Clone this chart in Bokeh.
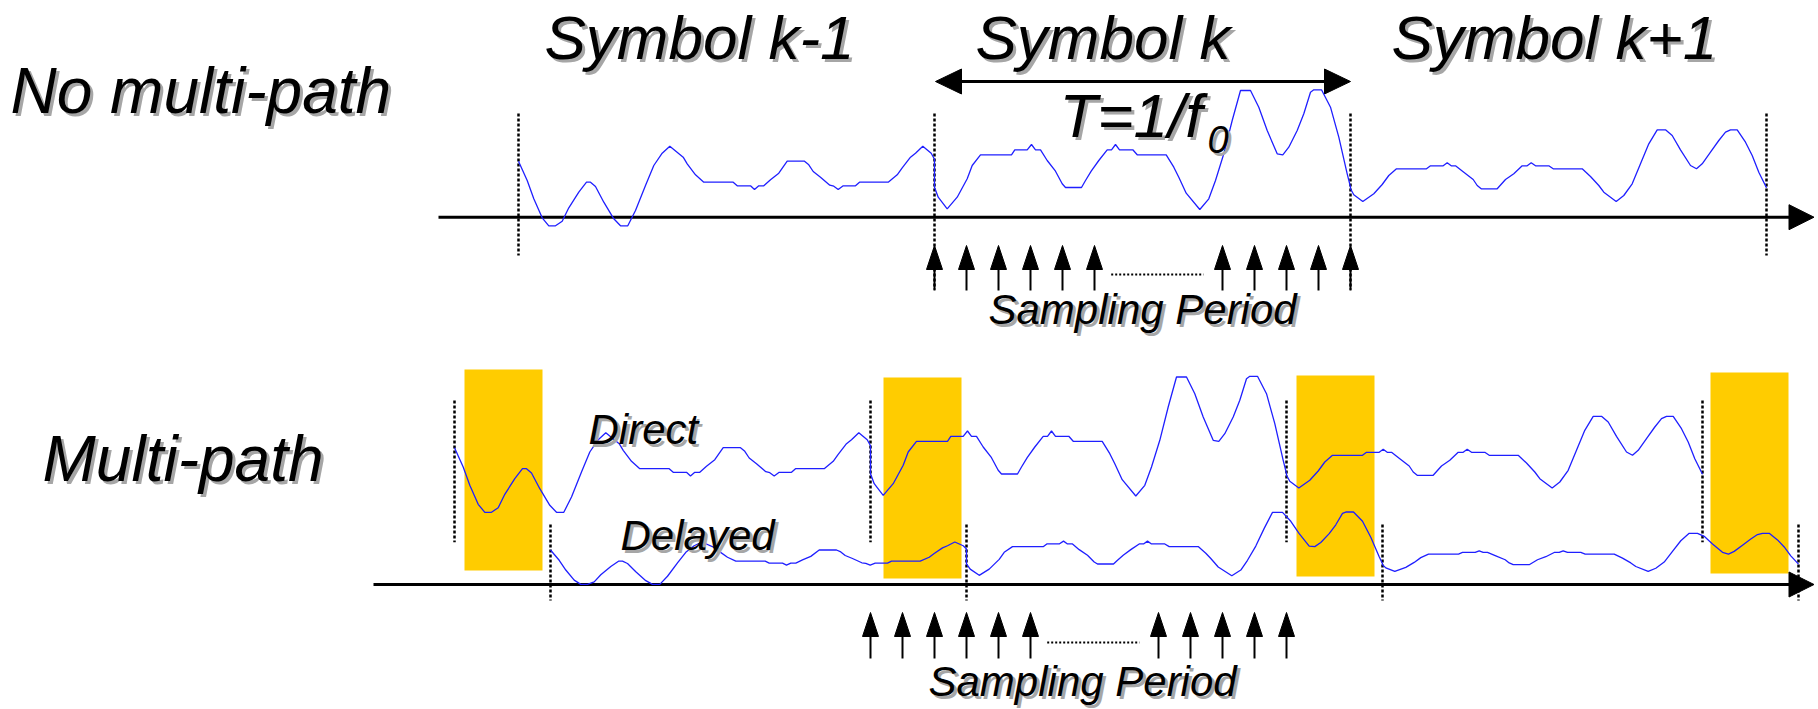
import numpy as np
from bokeh.plotting import figure
from bokeh.models import Range1d
from bokeh.embed import file_html
from bokeh.resources import INLINE
from bokeh.core.properties import value

# ---------------- data ----------------
# waveform of each symbol: offset inside the symbol (px of a 416px symbol) and amplitude above baseline
KM1_DX = [0, 8.7, 15.3, 23.7, 30.3, 37, 43.7, 50.3, 60.3, 68, 72, 77, 85.3, 95.3, 102, 109.3, 117, 127,
          135.3, 143.7, 151.3, 164.7, 168.7, 177, 185.3, 214.7, 218.7, 232, 236, 240.3, 245.3, 252, 260.3,
          268.7, 286, 290.3, 294.7, 302, 311.3, 315.3, 319.7, 324.7, 337, 341, 369.7, 378.7, 383.7, 392,
          397, 404.3, 412.7, 416]
KM1_AMP = [56, 36.7, 18.4, -0.6, -8.6, -8.6, -4, 9.4, 25, 35, 35, 30.7, 15, -1.6, -8.6, -8.6, 6.7, 31.7,
           51.7, 64, 71, 60, 53.4, 42.4, 35, 35, 31.4, 31.4, 27.7, 31.4, 31.4, 37.4, 44,
           56, 56, 52.4, 45.7, 40, 32, 31, 27.7, 31.4, 31.4, 35, 35, 42.4, 49.4, 60,
           64, 71, 64, 58]

K_DX = [0, 3.7, 12.7, 22.7, 32.7, 37.7, 46, 77, 80.3, 92.7, 97, 101, 106, 112.7, 121, 127.7, 131, 147,
        151, 156.7, 164.3, 172.7, 177, 181, 185, 198.3, 202.7, 231.7, 239.3, 244.3, 251.7, 265.3, 274.3,
        281, 289.3, 297.7, 306, 316, 324.3, 332.7, 342.7, 348.3, 354.3, 362.7, 369.3, 376, 379.3, 387,
        396, 404.3, 412.7, 416]
K_AMP = [30, 20, 8.4, 20, 38.4, 51.7, 62.4, 62.4, 67.4, 67.4, 72.7, 67.4, 67.4, 56.7, 46, 33.4, 29.7, 29.7,
         36.7, 46, 56.7, 67.4, 67.4, 72.7, 67.4, 67.4, 62.4, 62.4, 50, 40, 24, 7.7, 18.4,
         36.7, 63.4, 96.7, 126.7, 126.7, 110, 86.7, 63.4, 62.4, 70, 86.7, 103.4, 125, 127.4, 127.4,
         110, 80, 43.4, 30]

KP1_DX = [0, 3.3, 12.3, 23.3, 31.7, 38.3, 46, 76, 80, 92.7, 96.7, 100.7, 105, 113.3, 122.7, 126.7, 130.7,
          146.7, 155, 163.3, 171.7, 176.7, 180.7, 185, 198.3, 202.7, 231.7, 240, 248.3, 253.3, 265.7,
          273.3, 281.7, 290, 298.3, 306.7, 315, 321.7, 330, 340, 346, 351.7, 360, 368.3, 375, 380,
          386.7, 395, 401.7, 408.3, 416]
KP1_AMP = [28.4, 22.4, 15.7, 23.4, 32.7, 41.7, 48.4, 48.4, 51.4, 51.4, 54.4, 51.4, 51.4, 45, 37.7, 31.7, 28.4,
           28.4, 37.7, 43.4, 51.4, 51.4, 54.4, 51.4, 51.4, 48.4, 48.4, 40.7, 31.7, 25, 15.7,
           21.7, 33.4, 53.4, 73.4, 87.4, 87.4, 81.7, 67.4, 51.7, 48.4, 53.4, 65, 76.7, 85, 87.4,
           87.4, 75, 61.7, 45, 29.4]

SYMBOL_LABELS = ["Symbol k-1", "Symbol k", "Symbol k+1"]
SAMPLES_PER_SYMBOL = 13
SHOWN_SAMPLES = [0, 1, 2, 3, 4, 5, 9, 10, 11, 12, 13]
DELAY_GAIN = 0.532

# ---------------- layout ----------------
W, H = 1818, 709
T_PX = 416.0
TOP_X0, TOP_AXIS = 518.0, 216.7
DIR_X0, DIR_BASE = 454.0, 503.2
DEL_X0, BOT_AXIS, DEL_LIFT = 550.0, 584.0, 4.7
BASELINE_FIX = 0.33        # em; compensates the renderer's baseline placement

FONT = value("Liberation Sans")
BLUE = "#1f1fff"
YELLOW = "#ffcc00"
SHADOW = "#a6a6a6"

p = figure(width=W, height=H, x_range=Range1d(0, W), y_range=Range1d(H, 0),
           output_backend="svg", toolbar_location=None, min_border=0,
           x_axis_type=None, y_axis_type=None)
p.grid.visible = False
p.outline_line_color = None
p.background_fill_color = "white"
p.border_fill_color = "white"


def build(x0):
    xs, amps = [], []
    for i, (dx, amp) in enumerate(((KM1_DX, KM1_AMP), (K_DX, K_AMP), (KP1_DX, KP1_AMP))):
        xs.extend([x0 + i * T_PX + d for d in dx])
        amps.extend(amp)
    return np.array(xs), np.array(amps, dtype=float)


# yellow windows (multi-path interference region at start of each direct symbol)
rect_left = [DIR_X0 + i * T_PX + off for i, off in enumerate([10, 13, 10, 8])]
rect_top = [369, 377, 375, 372]
p.quad(left=rect_left, right=[l + 78 for l in rect_left], top=rect_top,
       bottom=[t + 201 for t in rect_top], fill_color=YELLOW, line_color=None)


# dashed symbol boundaries
def vlines(xs, y0s, y1s):
    p.segment(x0=xs, y0=y0s, x1=xs, y1=y1s, line_color="black", line_width=2.5, line_dash="3 2")


top_b = [TOP_X0 + i * T_PX for i in range(4)]
vlines(top_b, [113] * 4, [255, 289, 289, 255])
dir_b = [DIR_X0 + i * T_PX for i in range(4)]
vlines(dir_b, [400] * 4, [541.7] * 4)
del_b = [DEL_X0 + i * T_PX for i in range(4)]
vlines(del_b, [524] * 4, [600] * 4)


def head(tip_x, tip_y, dx, dy, length, half):
    bx, by = tip_x - dx * length, tip_y - dy * length
    px, py = -dy, dx
    return ([tip_x, bx + px * half, bx - px * half], [tip_y, by + py * half, by - py * half])


heads_x, heads_y = [], []

# time axes
for x_start, y in ((438, TOP_AXIS), (373, BOT_AXIS)):
    p.segment(x0=[x_start], y0=[y], x1=[1792], y1=[y], line_color="black", line_width=3)
    hx, hy = head(1813.5, y, 1, 0, 25, 12.5)
    heads_x.append(hx); heads_y.append(hy)

# T double arrow
p.segment(x0=[955], y0=[81], x1=[1330], y1=[81], line_color="black", line_width=3)
for tip, d in ((935, -1), (1350, 1)):
    hx, hy = head(tip, 81, d, 0, 26, 12.5)
    heads_x.append(hx); heads_y.append(hy)

# sampling arrows
step = T_PX / SAMPLES_PER_SYMBOL
for x0, tip_y, bottom, dot_y in ((TOP_X0 + T_PX, 245, 290, 274), (DIR_X0 + T_PX, 612, 658, 642)):
    sx = [x0 + s * step for s in SHOWN_SAMPLES]
    p.segment(x0=sx, y0=[tip_y + 20] * len(sx), x1=sx, y1=[bottom] * len(sx),
              line_color="black", line_width=2)
    for x in sx:
        hx, hy = head(x, tip_y, 0, -1, 24, 8)
        heads_x.append(hx); heads_y.append(hy)
    p.segment(x0=[x0 + 5 * step + 16.7], y0=[dot_y], x1=[x0 + 9 * step - 19], y1=[dot_y],
              line_color="black", line_width=1.8, line_dash="2 2")

p.patches(heads_x, heads_y, fill_color="black", line_color="black", line_width=1)

# waveforms
tx, ta = build(TOP_X0)
p.line(tx, TOP_AXIS - ta, line_color=BLUE, line_width=1.3)
dx_, da = build(DIR_X0)
p.line(dx_, DIR_BASE - da, line_color=BLUE, line_width=1.3)
lx, la = build(DEL_X0)
p.line(lx, BOT_AXIS - DEL_LIFT - DELAY_GAIN * la, line_color=BLUE, line_width=1.3)


def label(x, y, txt, size):
    y_draw = y - BASELINE_FIX * size
    for dxy, col in ((3, SHADOW), (0, "black")):
        p.text(x=[x + dxy], y=[y_draw + dxy], text=[txt], text_font=FONT, text_font_style="italic",
               text_font_size=value(f"{size}px"), text_color=col, text_align="left",
               text_baseline="alphabetic")


label(10, 112, "No multi-path", 64)
label(42, 480, "Multi-path", 64)
for x, txt in zip([544, 975, 1391], SYMBOL_LABELS):
    label(x, 57, txt, 62)
label(1059, 135, "T=1/f", 62)
label(1207, 152, "0", 38)
label(988, 323, "Sampling Period", 42)
label(928, 695, "Sampling Period", 42)
label(588, 443, "Direct", 42)
label(620, 549, "Delayed", 42)

open("out.html", "w").write(file_html(p, INLINE))
